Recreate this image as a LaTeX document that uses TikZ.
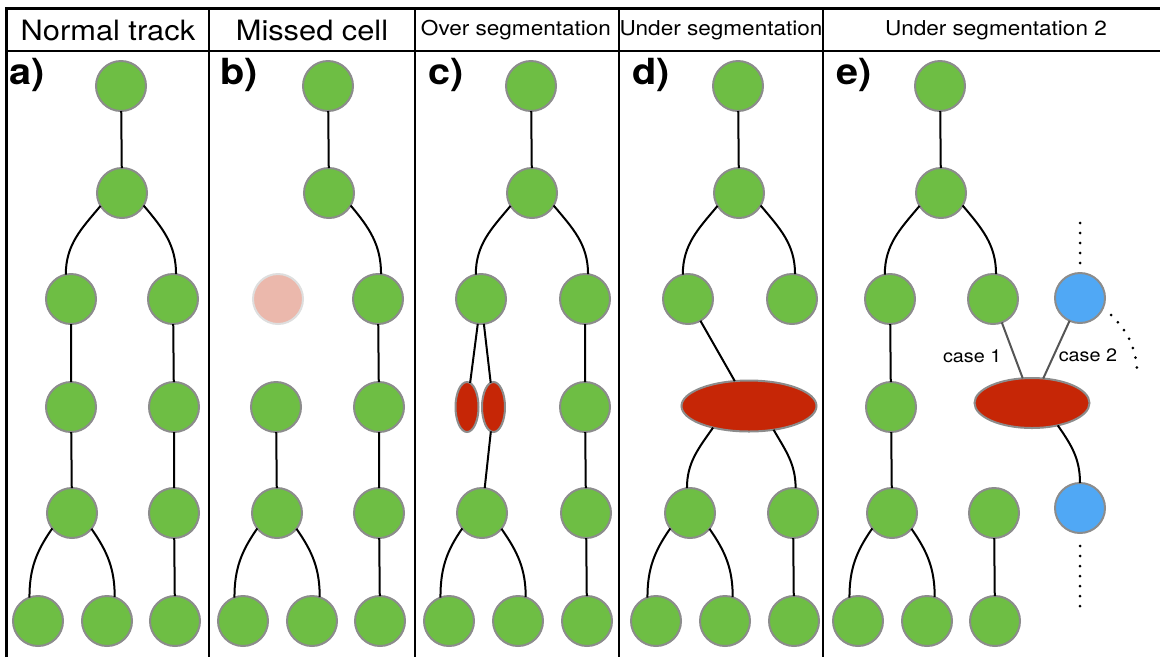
\documentclass[tikz,border=0pt]{standalone}
\usepackage{fontspec}
\setmainfont{TeX Gyre Heros}[FakeStretch = 1.1]
\usetikzlibrary{shapes.geometric}

\definecolor{cellgreen}{RGB}{110,190,68}
\definecolor{cellrim}{RGB}{140,140,140}
\definecolor{blobred}{RGB}{198,38,6}
\definecolor{misspink}{RGB}{235,184,172}
\definecolor{missrim}{RGB}{222,222,222}
\definecolor{otherblue}{RGB}{80,168,245}
\definecolor{casegray}{RGB}{85,85,85}

\begin{document}
\begin{tikzpicture}[
  x = 1pt,
  y = 1pt,
  cell/.style = {
    shape = circle,
    draw = cellrim,
    fill = cellgreen,
    line width = 2pt,
    minimum size = 50pt,
    inner sep = 0pt,
    outer sep = 0pt,
  },
  missed/.style = { cell, draw = missrim, fill = misspink },
  other/.style = { cell, fill = otherblue },
  blob/.style = {
    shape = ellipse,
    draw = cellrim,
    fill = blobred,
    line width = 2pt,
    inner sep = 0pt,
    outer sep = 0pt,
  },
  head/.style = { font = \fontsize{28}{30}\selectfont },
  subhead/.style = { font = \fontsize{20.5}{22}\selectfont },
  tag/.style = {
    anchor = west,
    inner sep = 0pt,
    font = \fontsize{36}{38}\selectfont\bfseries,
  },
  caseline/.style = { draw = casegray, line width = 2pt },
  caselabel/.style = { inner sep = 0pt, font = \fontsize{18}{20}\selectfont },
  dotline/.style = {
    line width = 3pt,
    line cap = round,
    dash pattern = on 0pt off 10pt,
  }
]
  \useasboundingbox (0, 0) rectangle (1160, -657);

  \draw[line width = 3pt] (6.5, -657) -- (6.5, -8) -- (1160, -8);
  \draw[line width = 2pt] (6.5, -51) -- (1160, -51);
  \foreach \x in {209, 415, 619, 823}
    \draw[line width = 1.5pt] (\x, -8) -- (\x, -657);

  \node[head] (hnormal) at (108, -30) {Normal track};
  \node[head] (hmissed) at (312, -30) {Missed cell};
  \node[subhead] (hover) at (516, -30) {Over segmentation};
  \node[subhead] (hunder) at (721, -30) {Under segmentation};
  \node[subhead] (hundertwo) at (996, -30) {Under segmentation 2};

  \node[tag] (taga) at (9, -75) {a)};
  \node[tag] (tagb) at (220, -75) {b)};
  \node[tag] (tagc) at (428, -75) {c)};
  \node[tag] (tagd) at (632, -75) {d)};
  \node[tag] (tage) at (836, -75) {e)};

  \node[cell] (a1) at (121, -86) {};
  \node[cell] (a2) at (122, -193) {};
  \node[cell] (a3l) at (71, -299) {};
  \node[cell] (a3r) at (173, -299) {};
  \node[cell] (a4l) at (71, -407) {};
  \node[cell] (a4r) at (174, -407) {};
  \node[cell] (a5l) at (72, -513) {};
  \node[cell] (a5r) at (174, -513) {};
  \node[cell] (a6a) at (38, -621) {};
  \node[cell] (a6b) at (107, -621) {};
  \node[cell] (a6c) at (175, -621) {};

  \node[cell] (b1) at (328, -86) {};
  \node[cell] (b2) at (329, -193) {};
  \node[missed] (b3l) at (278, -299) {};
  \node[cell] (b3r) at (378, -299) {};
  \node[cell] (b4l) at (276, -407) {};
  \node[cell] (b4r) at (379, -407) {};
  \node[cell] (b5l) at (277, -513) {};
  \node[cell] (b5r) at (379, -513) {};
  \node[cell] (b6a) at (243, -621) {};
  \node[cell] (b6b) at (312, -621) {};
  \node[cell] (b6c) at (380, -621) {};

  \node[cell] (c1) at (531, -86) {};
  \node[cell] (c2) at (532, -193) {};
  \node[cell] (c3l) at (481, -299) {};
  \node[cell] (c3r) at (585, -299) {};
  \node[blob, minimum width = 23pt, minimum height = 50pt] (cea) at (467, -407) {};
  \node[blob, minimum width = 23pt, minimum height = 50pt] (ceb) at (493.5, -407) {};
  \node[cell] (c4r) at (585, -407) {};
  \node[cell] (c5l) at (482, -513) {};
  \node[cell] (c5r) at (586, -513) {};
  \node[cell] (c6a) at (449, -621) {};
  \node[cell] (c6b) at (518, -621) {};
  \node[cell] (c6c) at (587, -621) {};

  \node[cell] (d1) at (738, -86) {};
  \node[cell] (d2) at (739, -193) {};
  \node[cell] (d3l) at (688, -299) {};
  \node[cell] (d3r) at (792, -299) {};
  \node[blob, minimum width = 135pt, minimum height = 51pt] (dell) at (749, -406) {};
  \node[cell] (d5l) at (690, -513) {};
  \node[cell] (d5r) at (793, -513) {};
  \node[cell] (d6a) at (656, -621) {};
  \node[cell] (d6b) at (725, -621) {};
  \node[cell] (d6c) at (794, -621) {};

  \node[cell] (e1) at (940, -86) {};
  \node[cell] (e2) at (941, -193) {};
  \node[cell] (e3l) at (890, -299) {};
  \node[cell] (e3m) at (993, -299) {};
  \node[other] (e3b) at (1080, -298) {};
  \node[cell] (e4l) at (891, -407) {};
  \node[blob, minimum width = 115pt, minimum height = 50pt] (eell) at (1032, -403) {};
  \node[cell] (e5l) at (892, -513) {};
  \node[cell] (e5m) at (994, -513) {};
  \node[other] (e5b) at (1080, -508) {};
  \node[cell] (e6a) at (858, -621) {};
  \node[cell] (e6b) at (927, -621) {};
  \node[cell] (e6c) at (995, -621) {};

  \coordinate (e3top) at (1080, -223);
  \coordinate (e5bot) at (1080, -606);
  \coordinate (sidea) at (1111, -315);
  \coordinate (sideb) at (1137, -369);

  \begin{scope}[every path/.style = { line width = 2pt }]
    \draw (a1) -- (a2);
    \draw (a2.-149) to[out = -130, in = 90] (a3l.102);
    \draw (a2.-30) to[out = -50, in = 90] (a3r.83);
    \draw (a3l) -- (a4l) -- (a5l);
    \draw (a3r) -- (a4r) -- (a5r) -- (a6c);
    \draw (a5l.-142) to[out = -125, in = 90] (a6a.110);
    \draw (a5l.-39) to[out = -55, in = 90] (a6b.72);

    \draw (b1) -- (b2);
    \draw (b2.-30) to[out = -50, in = 90] (b3r.83);
    \draw (b3r) -- (b4r) -- (b5r) -- (b6c);
    \draw (b4l) -- (b5l);
    \draw (b5l.-142) to[out = -125, in = 90] (b6a.110);
    \draw (b5l.-39) to[out = -55, in = 90] (b6b.72);

    \draw (c1) -- (c2);
    \draw (c2.-149) to[out = -130, in = 90] (c3l.102);
    \draw (c2.-30) to[out = -50, in = 90] (c3r.83);
    \draw (c3l) -- (cea);
    \draw (c3l) -- (ceb);
    \draw (ceb) -- (c5l);
    \draw (c3r) -- (c4r) -- (c5r) -- (c6c);
    \draw (c5l.-142) to[out = -125, in = 90] (c6a.110);
    \draw (c5l.-39) to[out = -55, in = 90] (c6b.72);

    \draw (d1) -- (d2);
    \draw (d2.-149) to[out = -130, in = 90] (d3l.102);
    \draw (d2.-30) to[out = -50, in = 90] (d3r.83);
    \draw (d3l) -- (dell);
    \draw (dell.-149) to[out = -125, in = 90] (d5l.97);
    \draw (dell.-44) to[out = -60, in = 90] (d5r.84);
    \draw (d5r) -- (d6c);
    \draw (d5l.-142) to[out = -125, in = 90] (d6a.110);
    \draw (d5l.-39) to[out = -55, in = 90] (d6b.72);

    \draw (e1) -- (e2);
    \draw (e2.-149) to[out = -130, in = 90] (e3l.102);
    \draw (e2.-30) to[out = -50, in = 90] (e3m.83);
    \draw (e3l) -- (e4l) -- (e5l);
    \draw (e5l.-142) to[out = -125, in = 90] (e6a.110);
    \draw (e5l.-39) to[out = -55, in = 90] (e6b.72);
    \draw (e5m) -- (e6c);
    \draw (eell.-41) to[out = -55, in = 90] (e5b);
    \draw[caseline] (e3m) -- (eell) node[caselabel, pos = 0.6, left = 12pt] {case 1};
    \draw[caseline] (e3b) -- (eell) node[caselabel, pos = 0.6, right = 4pt] {case 2};
  \end{scope}

  \draw[dotline, shorten >= 8pt] (e3top) -- (e3b);
  \draw[dotline, shorten >= 10pt] (e5bot) -- (e5b);
  \draw[dotline] (sidea) to[out = -45, in = 95] (sideb);
\end{tikzpicture}
\end{document}
